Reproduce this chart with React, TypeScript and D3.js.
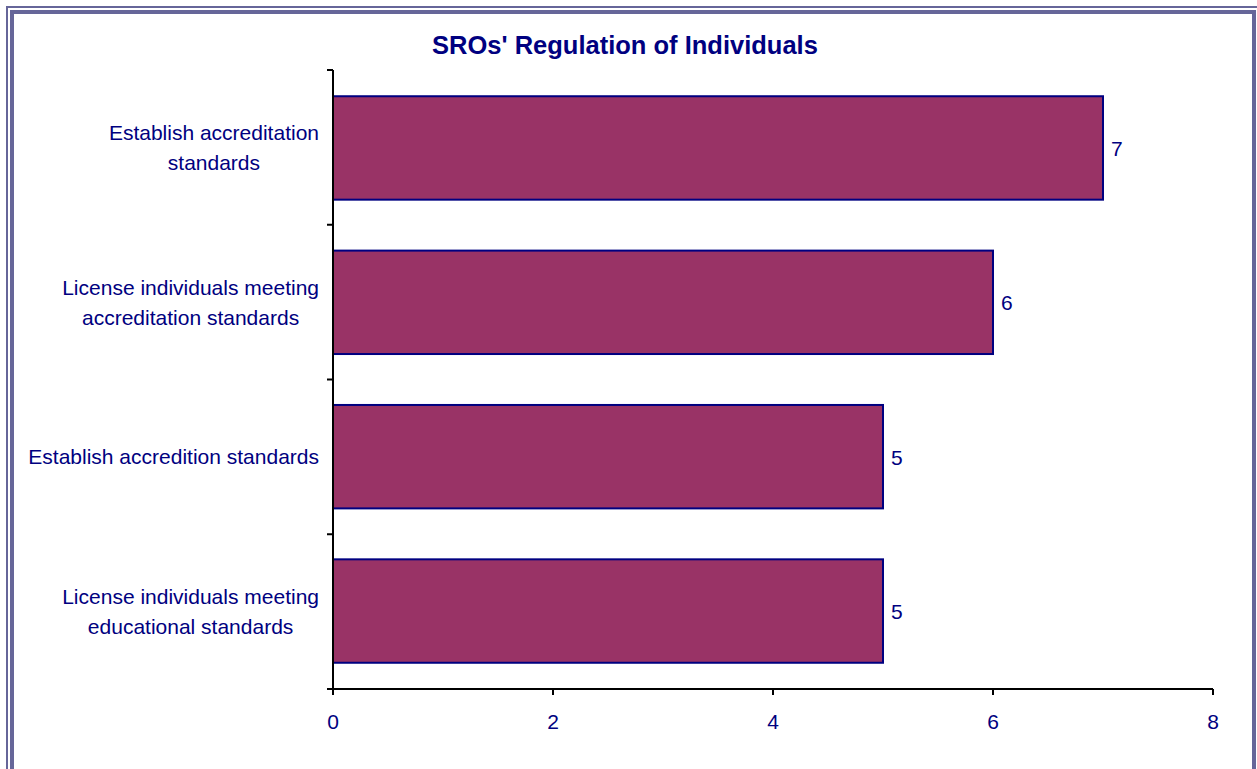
import React from "react";
import * as d3 from "d3";

const categories: string[][] = [
  ["Establish accreditation", "standards"],
  ["License individuals meeting", "accreditation standards"],
  ["Establish accredition standards"],
  ["License individuals meeting", "educational standards"],
];
const values: number[] = [7, 6, 5, 5];
const xTicks: number[] = [0, 2, 4, 6, 8];
const title = "SROs' Regulation of Individuals";

const W = 1257;
const H = 769;
const FONT = "'Liberation Sans', Arial, sans-serif";
const NAVY = "#000080";
const FS = 21;

const measure = (() => {
  let ctx: CanvasRenderingContext2D | null = null;
  return (text: string, font: string) => {
    if (!ctx) {
      const c = document.createElement("canvas");
      ctx = c.getContext("2d");
    }
    if (!ctx) return text.length * 10;
    ctx.font = font;
    return ctx.measureText(text).width;
  };
})();

export default function App() {
  const left = 333;
  const right = 1213;
  const top = 70;
  const bottom = 689;

  const x = d3.scaleLinear().domain([0, 8]).range([left, right]);
  const y = d3
    .scaleBand<number>()
    .domain(d3.range(categories.length))
    .range([top, bottom])
    .paddingInner(0.33)
    .paddingOuter(0.17);
  const step = (bottom - top) / categories.length;
  const bands = d3.range(categories.length + 1).map((i) => top + i * step);

  return (
    <div style={{ position: "fixed", left: 0, top: 0 }}>
      <svg width={W} height={H} style={{ display: "block", background: "#fff" }}>
        {/* double frame */}
        <rect x={7} y={7} width={1254} height={800} fill="none" stroke="#666699" strokeWidth={2} />
        <rect x={12} y={12} width={1242} height={790} fill="none" stroke="#666699" strokeWidth={4} />

        <text x={625} y={54} textAnchor="middle" fontFamily={FONT} fontWeight="bold" fontSize={25.5} fill={NAVY}>
          {title}
        </text>

        {/* bars */}
        {values.map((v, i) => (
          <g key={i}>
            <rect
              x={x(0)}
              y={y(i)!}
              width={x(v) - x(0)}
              height={y.bandwidth()}
              fill="#993366"
              stroke={NAVY}
              strokeWidth={2}
            />
            <text
              x={x(v) + 8}
              y={y(i)! + y.bandwidth() / 2 + 8}
              fontFamily={FONT}
              fontSize={FS}
              fill={NAVY}
            >
              {v}
            </text>
          </g>
        ))}

        {/* category axis */}
        <line x1={left} x2={left} y1={top} y2={bottom} stroke="#000" strokeWidth={2} />
        {bands.map((b, i) => (
          <line key={i} x1={left - 6} x2={left} y1={b} y2={b} stroke="#000" strokeWidth={2} />
        ))}
        {categories.map((lines, i) => {
          const font = `${FS}px ${FONT}`;
          const maxW = d3.max(lines, (l) => measure(l, font)) || 0;
          const cx = 319 - maxW / 2;
          const cy = top + (i + 0.5) * step;
          const lh = 30;
          return (
            <text key={i} textAnchor="middle" fontFamily={FONT} fontSize={FS} fill={NAVY}>
              {lines.map((l, j) => (
                <tspan key={j} x={cx} y={cy + (j - (lines.length - 1) / 2) * lh + 7.5}>
                  {l}
                </tspan>
              ))}
            </text>
          );
        })}

        {/* value axis */}
        <line x1={left - 6} x2={right} y1={bottom} y2={bottom} stroke="#000" strokeWidth={2} />
        {xTicks.map((t) => (
          <g key={t}>
            <line x1={x(t)} x2={x(t)} y1={bottom} y2={bottom + 6} stroke="#000" strokeWidth={2} />
            <text x={x(t)} y={729} textAnchor="middle" fontFamily={FONT} fontSize={FS} fill={NAVY}>
              {t}
            </text>
          </g>
        ))}
      </svg>
    </div>
  );
}
